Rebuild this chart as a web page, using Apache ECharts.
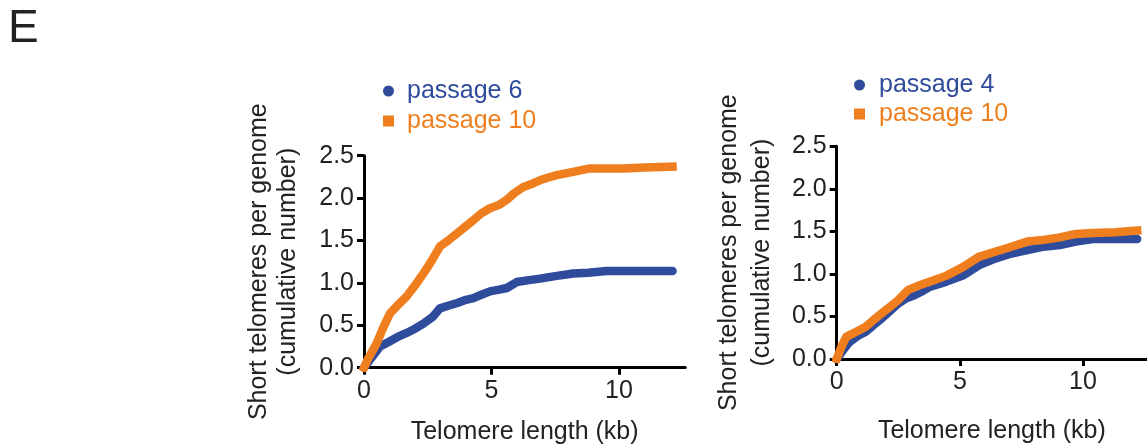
<!DOCTYPE html>
<html>
<head>
<meta charset="utf-8">
<script src="https://cdn.jsdelivr.net/npm/echarts@6/dist/echarts.min.js"></script>
<style>
  html, body { margin: 0; padding: 0; background: #fff; }
  #chart { width: 1147px; height: 448px; }
</style>
</head>
<body>
<div id="chart"></div>
<script>
// left panel: passage 6 vs passage 10
var leftP6X = [0, 0.2, 0.4, 0.63, 1.0, 1.3, 1.67, 2.0, 2.33, 2.7, 2.98, 3.3, 3.63, 4.0, 4.29, 4.6, 4.94, 5.3, 5.6, 5.99, 6.4, 6.9, 7.5, 8.2, 8.8, 9.5, 10.5, 11.3, 12.1]
var leftP6Y = [0, 0.08, 0.16, 0.25, 0.31, 0.36, 0.41, 0.46, 0.52, 0.60, 0.70, 0.73, 0.76, 0.80, 0.82, 0.86, 0.90, 0.92, 0.94, 1.01, 1.03, 1.05, 1.08, 1.11, 1.12, 1.14, 1.14, 1.14, 1.14]
var leftP10X = [0, 0.15, 0.3, 0.5, 0.75, 1.02, 1.3, 1.67, 2.0, 2.33, 2.65, 2.98, 3.3, 3.63, 4.0, 4.29, 4.6, 4.94, 5.3, 5.6, 5.9, 6.25, 6.6, 6.9, 7.2, 7.56, 8.2, 8.86, 9.5, 10.2, 11.0, 12.1]
var leftP10Y = [0, 0.1, 0.18, 0.29, 0.47, 0.64, 0.73, 0.84, 0.97, 1.11, 1.26, 1.43, 1.5, 1.58, 1.67, 1.74, 1.82, 1.88, 1.92, 1.98, 2.06, 2.13, 2.17, 2.21, 2.24, 2.27, 2.31, 2.35, 2.35, 2.35, 2.36, 2.37]

// right panel: passage 4 vs passage 10
var rightP4X = [0, 0.25, 0.52, 0.85, 1.18, 1.5, 1.84, 2.15, 2.49, 2.8, 3.15, 3.5, 3.8, 4.46, 5.12, 5.77, 6.43, 7.09, 7.74, 8.4, 9.06, 9.71, 10.4, 11.3, 12.2]
var rightP4Y = [0, 0.1, 0.20, 0.27, 0.32, 0.40, 0.48, 0.56, 0.65, 0.71, 0.75, 0.80, 0.85, 0.91, 0.98, 1.10, 1.18, 1.24, 1.28, 1.32, 1.34, 1.38, 1.41, 1.41, 1.41]
var rightP10X = [0, 0.2, 0.39, 0.79, 1.18, 1.5, 1.84, 2.15, 2.49, 2.89, 3.3, 3.8, 4.46, 5.12, 5.77, 6.43, 7.09, 7.74, 8.4, 9.06, 9.71, 10.4, 11.3, 12.2]
var rightP10Y = [0, 0.15, 0.26, 0.32, 0.38, 0.46, 0.54, 0.61, 0.69, 0.81, 0.86, 0.91, 0.98, 1.08, 1.20, 1.26, 1.32, 1.38, 1.40, 1.43, 1.47, 1.48, 1.49, 1.51]

var xTicks = [0, 5, 10]

var blue = '#2f4b9b'
var orange = '#ef7f1e'
var ink = '#222'
var font = 'Liberation Sans, Arial, sans-serif'

function pairs (xs, ys) {
  var out = []
  for (var i = 0; i < xs.length; i++) out.push([xs[i], ys[i]])
  return out
}

function xAxisFor (grid, gap) {
  return {
    type: 'value', gridIndex: grid, min: 0, max: 12.6,
    name: 'Telomere length (kb)', nameLocation: 'middle', nameGap: gap,
    nameTextStyle: { fontSize: 25, color: ink, fontFamily: font },
    axisLine: { lineStyle: { color: '#000', width: 3 } },
    axisTick: { length: 7, lineStyle: { color: '#000', width: 3 }, customValues: xTicks },
    axisLabel: { fontSize: 25, color: ink, fontFamily: font, margin: 11, customValues: xTicks },
    splitLine: { show: false }
  }
}

function yAxisFor (grid, gap, lh) {
  return {
    type: 'value', gridIndex: grid, min: 0, max: 2.5, interval: 0.5,
    name: 'Short telomeres per genome\n(cumulative number)',
    nameLocation: 'middle', nameRotate: 90, nameGap: gap,
    nameTextStyle: { fontSize: 25, color: ink, fontFamily: font, lineHeight: lh },
    axisLine: { show: true, lineStyle: { color: '#000', width: 3 } },
    axisTick: { show: true, length: 7, lineStyle: { color: '#000', width: 3 } },
    axisLabel: { fontSize: 25, color: ink, fontFamily: font, margin: 10,
      formatter: function (v) { return v.toFixed(1) } },
    splitLine: { show: false }
  }
}

function lineSeries (name, grid, data, color, cap) {
  return {
    name: name, type: 'line', xAxisIndex: grid, yAxisIndex: grid,
    data: data, showSymbol: false, symbol: 'none', animation: false,
    lineStyle: { color: color, width: 8.5, cap: cap, join: 'round' },
    itemStyle: { color: color }
  }
}

const myChart = echarts.init(document.getElementById('chart'))
var option = {
  backgroundColor: '#fff',
  animation: false,
  grid: [
    { left: 364, top: 155.7, width: 321.3, height: 212 },
    { left: 836.7, top: 146.3, width: 320, height: 212.7 }
  ],
  xAxis: [xAxisFor(0, 52), xAxisFor(1, 60)],
  yAxis: [yAxisFor(0, 61, 29), yAxisFor(1, 58, 33)],
  legend: [
    {
      orient: 'vertical', left: 378, top: 72, itemWidth: 11, itemHeight: 11, itemGap: 2,
      textStyle: { fontSize: 25, fontFamily: font, lineHeight: 28, padding: [0, 0, 0, 8] },
      data: [
        { name: 'passage 6', icon: 'circle', textStyle: { color: blue } },
        { name: 'passage 10', icon: 'rect', textStyle: { color: orange } }
      ]
    },
    {
      orient: 'vertical', left: 849, top: 66, itemWidth: 11, itemHeight: 11, itemGap: 1,
      textStyle: { fontSize: 25, fontFamily: font, lineHeight: 28, padding: [0, 0, 0, 9] },
      data: [
        { name: 'passage 4', icon: 'circle', textStyle: { color: blue } },
        { name: 'passage 10 ', icon: 'rect', textStyle: { color: orange } }
      ],
      formatter: function (n) { return n.trim() }
    }
  ],
  graphic: [
    { type: 'text', left: 8, top: 6, style: { text: 'E', fontSize: 46, fill: ink, fontFamily: font } }
  ],
  series: [
    lineSeries('passage 6', 0, pairs(leftP6X, leftP6Y), blue, 'round'),
    lineSeries('passage 10', 0, pairs(leftP10X, leftP10Y), orange, 'square'),
    lineSeries('passage 4', 1, pairs(rightP4X, rightP4Y), blue, 'round'),
    lineSeries('passage 10 ', 1, pairs(rightP10X, rightP10Y), orange, 'square')
  ]
}
myChart.setOption(option)
</script>
</body>
</html>
